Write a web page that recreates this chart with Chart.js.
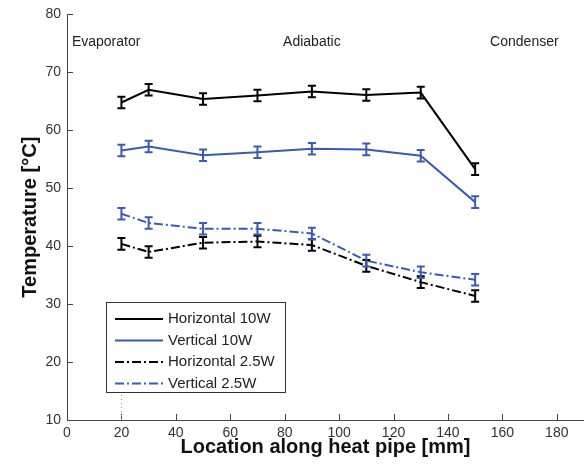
<!DOCTYPE html>
<html>
<head>
<meta charset="utf-8">
<script src="https://cdn.jsdelivr.net/npm/chart.js@4.4.0/dist/chart.umd.min.js"></script>
<style>
  body { margin: 0; background: #fff; }
  canvas { display: block; }
</style>
</head>
<body>
<canvas id="myChart" width="584" height="471"></canvas>
<script>
// thermocouple positions along the pipe [mm]
var locations = [20, 30, 50, 70, 90, 110, 130, 150];

// measured wall temperatures [°C]
var horizontal10W = [64.8, 67.0, 65.4, 66.0, 66.7, 66.1, 66.5, 53.3];
var vertical10W   = [56.5, 57.2, 55.7, 56.2, 56.8, 56.7, 55.6, 47.6];
var horizontal25W = [40.4, 39.0, 40.6, 40.8, 40.2, 36.6, 33.8, 31.4];
var vertical25W   = [45.6, 44.0, 43.0, 43.0, 42.2, 37.5, 35.5, 34.2];

// +/- uncertainty on each reading
var err10W  = [1.0, 1.0, 1.0, 1.0, 1.0, 1.0, 1.0, 1.0];
var err25W  = [1.0, 1.0, 1.0, 1.0, 1.0, 1.0, 1.0, 1.0];

var xTicks = [0, 20, 40, 60, 80, 100, 120, 140, 160, 180];
var yTicks = [10, 20, 30, 40, 50, 60, 70, 80];

// section names written across the top of the plot
var sectionNames = ['Evaporator', 'Adiabatic', 'Condenser'];
var sectionX     = [1.8, 90, 155.5];
var sectionAlign = ['left', 'center', 'left'];
var sectionY     = 75.2;

var BLUE = '#3a5ab4';
var DASHDOT = [9, 3, 2, 3];

function points(ys) {
    return locations.map(function(x, i) { return { x: x, y: ys[i] }; });
}

var series = [
    { label: 'Horizontal 10W', values: horizontal10W, err: err10W, color: '#000', dash: [] },
    { label: 'Vertical 10W', values: vertical10W, err: err10W, color: BLUE, dash: [] },
    { label: 'Horizontal 2.5W', values: horizontal25W, err: err25W, color: '#000', dash: DASHDOT },
    { label: 'Vertical 2.5W', values: vertical25W, err: err25W, color: BLUE, dash: DASHDOT }
];

var FONT = '"Liberation Sans", Arial, sans-serif';

// error bars, inward ticks, section labels, boxed legend and axis titles
var decorations = {
    id: 'decorations',
    afterDatasetsDraw: function(chart) {
        var ctx = chart.ctx, xs = chart.scales.x, ys = chart.scales.y;
        ctx.save();
        chart.data.datasets.forEach(function(ds, d) {
            var s = series[d];
            ctx.strokeStyle = s.color;
            ctx.lineWidth = 2;
            ctx.setLineDash([]);
            ds.data.forEach(function(p, i) {
                var px = xs.getPixelForValue(p.x);
                var top = ys.getPixelForValue(p.y + s.err[i]);
                var bot = ys.getPixelForValue(p.y - s.err[i]);
                ctx.beginPath();
                ctx.moveTo(px, top); ctx.lineTo(px, bot);
                ctx.moveTo(px - 4, top); ctx.lineTo(px + 4, top);
                ctx.moveTo(px - 4, bot); ctx.lineTo(px + 4, bot);
                ctx.stroke();
            });
        });
        ctx.restore();
    },
    afterDraw: function(chart) {
        var ctx = chart.ctx, xs = chart.scales.x, ys = chart.scales.y;
        var area = chart.chartArea;
        ctx.save();

        // inward tick marks
        ctx.strokeStyle = '#444';
        ctx.lineWidth = 1;
        ctx.beginPath();
        xTicks.forEach(function(v) {
            var px = Math.round(xs.getPixelForValue(v)) + 0.5;
            ctx.moveTo(px, area.bottom); ctx.lineTo(px, area.bottom - 6);
        });
        yTicks.forEach(function(v) {
            var py = Math.round(ys.getPixelForValue(v)) + 0.5;
            ctx.moveTo(area.left, py); ctx.lineTo(area.left + 6, py);
        });
        ctx.stroke();

        // dotted marker at the first thermocouple
        ctx.strokeStyle = '#999';
        ctx.setLineDash([1, 3]);
        ctx.beginPath();
        var dx = Math.round(xs.getPixelForValue(20)) + 0.5;
        ctx.moveTo(dx, ys.getPixelForValue(10));
        ctx.lineTo(dx, ys.getPixelForValue(16));
        ctx.stroke();
        ctx.setLineDash([]);

        // section labels
        ctx.fillStyle = '#222';
        ctx.font = '14px ' + FONT;
        ctx.textBaseline = 'middle';
        sectionNames.forEach(function(name, i) {
            ctx.textAlign = sectionAlign[i];
            ctx.fillText(name, xs.getPixelForValue(sectionX[i]), ys.getPixelForValue(sectionY));
        });

        // legend box
        var lx = 106, ly = 302, lw = 179, lh = 90;
        ctx.fillStyle = '#fff';
        ctx.fillRect(lx, ly, lw, lh);
        ctx.strokeStyle = '#333';
        ctx.lineWidth = 1;
        ctx.strokeRect(lx + 0.5, ly + 0.5, lw, lh);
        ctx.font = '15px ' + FONT;
        ctx.textAlign = 'left';
        ctx.textBaseline = 'middle';
        chart.data.datasets.forEach(function(ds, d) {
            var ry = ly + 17 + d * 21.5;
            ctx.strokeStyle = ds.borderColor;
            ctx.lineWidth = 2;
            ctx.setLineDash(ds.borderDash || []);
            ctx.beginPath();
            ctx.moveTo(lx + 9, ry); ctx.lineTo(lx + 57, ry);
            ctx.stroke();
            ctx.setLineDash([]);
            ctx.fillStyle = '#222';
            ctx.fillText(ds.label, lx + 62, ry);
        });

        // axis titles
        ctx.fillStyle = '#111';
        ctx.font = 'bold 20px ' + FONT;
        ctx.textAlign = 'center';
        ctx.fillText('Location along heat pipe [mm]', (area.left + area.right) / 2, 447);
        ctx.translate(30, (area.top + area.bottom) / 2);
        ctx.rotate(-Math.PI / 2);
        ctx.fillText('Temperature [°C]', 0, 0);
        ctx.restore();
    }
};

document.addEventListener("DOMContentLoaded", function() {
    var ctx = document.getElementById('myChart').getContext('2d');
    new Chart(ctx, {
        type: 'line',
        data: {
            datasets: series.map(function(s) {
                return {
                    label: s.label,
                    data: points(s.values),
                    borderColor: s.color,
                    borderDash: s.dash,
                    borderWidth: 2,
                    pointRadius: 0,
                    fill: false,
                    tension: 0
                };
            })
        },
        options: {
            responsive: false,
            animation: false,
            layout: { padding: { top: 14, right: 0, left: 0, bottom: 0 } },
            plugins: {
                legend: { display: false },
                tooltip: { enabled: false }
            },
            scales: {
                x: {
                    type: 'linear',
                    min: 0,
                    max: 190,
                    afterBuildTicks: function(scale) {
                        scale.ticks = xTicks.map(function(v) { return { value: v }; });
                    },
                    afterFit: function(scale) { scale.height = 51; },
                    grid: { display: false, drawTicks: false },
                    border: { display: true, color: '#444', width: 1 },
                    ticks: {
                        maxRotation: 0,
                        padding: 5,
                        color: '#333',
                        font: { family: FONT, size: 14 }
                    }
                },
                y: {
                    min: 10,
                    max: 80,
                    afterBuildTicks: function(scale) {
                        scale.ticks = yTicks.map(function(v) { return { value: v }; });
                    },
                    afterFit: function(scale) { scale.width = 67; },
                    grid: { display: false, drawTicks: false },
                    border: { display: true, color: '#444', width: 1 },
                    ticks: {
                        padding: 6,
                        color: '#333',
                        font: { family: FONT, size: 14 }
                    }
                }
            }
        },
        plugins: [decorations]
    });
});
</script>
</body>
</html>
